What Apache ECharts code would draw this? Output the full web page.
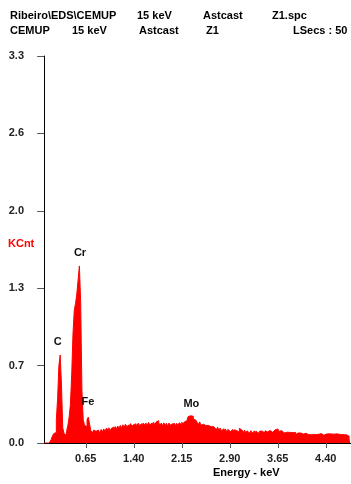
<!DOCTYPE html>
<html>
<head>
<meta charset="utf-8">
<script src="https://cdn.jsdelivr.net/npm/echarts@6/dist/echarts.min.js"></script>
<style>html,body{margin:0;padding:0;background:#fff;}#c{width:351px;height:484px;}</style>
</head>
<body>
<div id="c"></div>
<script>
// Spectrum: counts (KCnt) per 0.02 keV channel, starting at 0.00 keV
var channelStart = 0.0;
var channelStep = 0.02;
var counts = [
  0,0,0,0,0,0.01,0.03,0.06,0.08,0.09,
  0.20,0.38,0.66,0.75,0.50,0.13,0.08,0.065,0.10,0.15,
  0.22,0.33,0.58,0.93,1.13,1.19,1.27,1.39,1.51,1.20,
  0.45,0.20,0.15,0.14,0.20,0.22,0.16,0.10,0.09,0.11,
  0.10,0.085,0.11,0.095,0.08,0.115,0.095,0.12,0.10,0.125,
  0.11,0.13,0.105,0.125,0.135,0.11,0.14,0.12,0.145,0.125,
  0.15,0.13,0.155,0.135,0.16,0.14,0.155,0.135,0.165,0.145,
  0.16,0.14,0.165,0.145,0.17,0.15,0.165,0.145,0.17,0.152,
  0.17,0.148,0.175,0.155,0.17,0.15,0.176,0.155,0.18,0.19,
  0.172,0.152,0.17,0.148,0.172,0.15,0.168,0.145,0.17,0.152,
  0.165,0.145,0.17,0.15,0.168,0.148,0.172,0.155,0.178,0.16,
  0.18,0.19,0.205,0.225,0.232,0.235,0.228,0.205,0.195,0.182,
  0.178,0.158,0.18,0.152,0.16,0.15,0.156,0.148,0.15,0.142,
  0.145,0.138,0.14,0.13,0.133,0.112,0.135,0.108,0.128,0.105,
  0.122,0.1,0.12,0.098,0.116,0.112,0.098,0.115,0.094,0.112,
  0.105,0.1,0.092,0.125,0.11,0.094,0.09,0.11,0.086,0.104,
  0.1,0.084,0.105,0.086,0.103,0.082,0.1,0.104,0.084,0.102,
  0.1,0.105,0.086,0.104,0.11,0.094,0.1,0.107,0.092,0.108,
  0.104,0.112,0.108,0.12,0.098,0.106,0.09,0.095,0.086,0.09,
  0.092,0.076,0.09,0.073,0.088,0.075,0.09,0.072,0.086,0.072,
  0.085,0.078,0.082,0.076,0.083,0.079,0.072,0.086,0.07,0.084,
  0.08,0.072,0.078,0.072,0.078,0.074,0.068,0.08,0.066,0.078,
  0.076,0.064,0.078,0.066,0.077,0.063,0.075,0.065,0.078,0.064,
  0.074,0.062,0.072,0.06,0.071,0.06,0.069,0.058,0.063,0.055
];
var xTicks = [0.65, 1.40, 2.15, 2.90, 3.65, 4.40];
var yMin = 0, yMax = 3.3, yInterval = 0.66;
var peakNames = ['C', 'Cr', 'Fe', 'Mo'];
var peakEnergy = [0.26, 0.56, 0.70, 2.30];
var peakCounts = [0.75, 1.51, 0.22, 0.235];
var headerLine1 = ['Ribeiro\\EDS\\CEMUP', '15 keV', 'Astcast', 'Z1.spc'];
var headerLine2 = ['CEMUP', '15 keV', 'Astcast', 'Z1', 'LSecs : 50'];

var FONT = '"Liberation Sans", Arial, sans-serif';
var data = counts.map(function (v, i) { return [+(channelStart + i * channelStep).toFixed(3), v]; });
var labelOffsets = [[-3, -13], [0, -13], [-1, -15], [0, -11]];
var markData = peakNames.map(function (n, i) {
  return {
    name: n, coord: [peakEnergy[i], peakCounts[i]],
    label: { offset: labelOffsets[i] }
  };
});

var h1x = [10, 137, 203, 272];
var h2x = [10, 72, 139, 206, 293];
var graphics = [];
headerLine1.forEach(function (t, i) {
  graphics.push({ type: 'text', left: h1x[i], top: 10, style: { text: t, font: 'bold 11px ' + FONT, fill: '#000' } });
});
headerLine2.forEach(function (t, i) {
  graphics.push({ type: 'text', left: h2x[i], top: 25, style: { text: t, font: 'bold 11px ' + FONT, fill: '#000' } });
});
graphics.push({ type: 'text', left: 8, top: 238, style: { text: 'KCnt', font: 'bold 11px ' + FONT, fill: '#ff0000' } });
graphics.push({ type: 'text', left: 213, top: 467, style: { text: 'Energy - keV', font: 'bold 11px ' + FONT, fill: '#000' } });

var chart = echarts.init(document.getElementById('c'), null, { renderer: 'canvas' });
chart.setOption({
  animation: false,
  backgroundColor: '#fff',
  grid: { left: 42, right: 0, top: 56, bottom: 41, containLabel: false },
  xAxis: {
    type: 'value', min: -0.034, max: 4.794,
    axisLine: { show: true, lineStyle: { color: '#000', width: 1 } },
    axisTick: { show: true, customValues: xTicks, length: 5, lineStyle: { color: '#555' } },
    axisLabel: { customValues: xTicks, margin: 10, formatter: function (v) { return v.toFixed(2); },
      fontFamily: FONT, fontSize: 11, fontWeight: 'bold', color: '#222' },
    splitLine: { show: false }
  },
  yAxis: {
    type: 'value', min: yMin, max: yMax, interval: yInterval,
    axisLine: { show: true, lineStyle: { color: '#000', width: 1 } },
    axisTick: { show: true, length: 7, lineStyle: { color: '#555' } },
    axisLabel: { margin: 18, formatter: function (v) { return v.toFixed(1); },
      fontFamily: FONT, fontSize: 11, fontWeight: 'bold', color: '#222' },
    splitLine: { show: false }
  },
  graphic: graphics,
  series: [{
    type: 'line',
    data: data,
    step: 'middle',
    showSymbol: false,
    symbol: 'none',
    lineStyle: { color: '#ff0000', width: 1 },
    areaStyle: { color: '#ff0000', opacity: 1 },
    itemStyle: { color: '#ff0000' },
    z: 1,
    markPoint: {
      symbol: 'circle', symbolSize: 1,
      itemStyle: { color: 'rgba(0,0,0,0)' },
      label: { show: true, position: 'inside', formatter: '{b}', color: '#111',
        fontFamily: FONT, fontSize: 11, fontWeight: 'bold' },
      data: markData
    }
  }]
});
</script>
</body>
</html>
